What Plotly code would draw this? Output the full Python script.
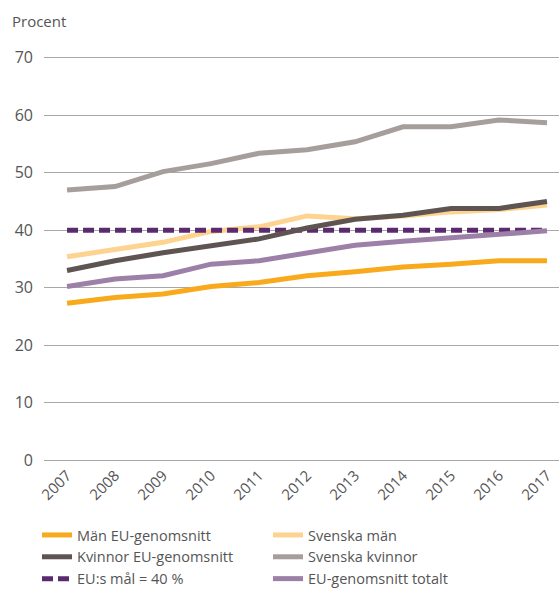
import plotly.graph_objects as go

years = list(range(2007, 2018))
man_eu = [27.3, 28.3, 28.9, 30.2, 30.9, 32.1, 32.8, 33.6, 34.1, 34.7, 34.7]
svenska_man = [35.4, 36.7, 37.9, 39.8, 40.6, 42.5, 42.0, 42.5, 43.2, 43.6, 44.4]
kvinnor_eu = [33.0, 34.7, 36.1, 37.3, 38.5, 40.4, 41.9, 42.6, 43.8, 43.8, 45.0]
svenska_kvinnor = [47.0, 47.6, 50.2, 51.6, 53.4, 54.0, 55.4, 58.0, 58.0, 59.2, 58.7]
eu_mal = [40] * 11
eu_totalt = [30.2, 31.5, 32.1, 34.1, 34.7, 36.0, 37.4, 38.1, 38.7, 39.2, 39.9]

names = ["Män EU-genomsnitt", "Svenska män", "Kvinnor EU-genomsnitt",
         "Svenska kvinnor", "EU:s mål = 40 %", "EU-genomsnitt totalt"]
colors = ["#F8AA1C", "#FDD38F", "#5E5452", "#A69E9A", "#5C2B6F", "#9C80A8"]

series = [man_eu, svenska_man, kvinnor_eu, svenska_kvinnor, eu_mal, eu_totalt]
draw_order = [3, 1, 4, 5, 0, 2]

fig = go.Figure()
for i in draw_order:
    dash = "11px,5px" if i == 4 else "solid"
    fig.add_trace(go.Scatter(
        x=years, y=series[i], name=names[i], mode="lines",
        line=dict(color=colors[i], width=5, dash=dash),
        legendrank=i + 1,
    ))

font = "Open Sans, Lato, sans-serif"
fig.update_layout(
    width=559, height=590,
    margin=dict(l=44, r=0, t=55, b=127, autoexpand=False),
    paper_bgcolor="white", plot_bgcolor="white",
    font=dict(family=font, color="#555555", size=14),
    showlegend=True,
    legend=dict(orientation="h", xref="paper", yref="paper",
                x=-7 / 515, xanchor="left", y=-56 / 408, yanchor="top",
                entrywidth=186, entrywidthmode="pixels",
                font=dict(size=14.5, color="#555555"), itemwidth=30,
                traceorder="normal"),
    xaxis=dict(range=[2006.52, 2017.25], tickvals=years, ticktext=[str(y) for y in years],
               tickangle=-45, showgrid=False, zeroline=False, showline=False,
               tickfont=dict(size=15), ticks="", automargin=False),
    yaxis=dict(range=[-0.5, 70.5], tickvals=[0, 10, 20, 30, 40, 50, 60, 70],
               showgrid=True, gridcolor="#A8A8A8", gridwidth=1.2, zeroline=False,
               showline=False, ticks="", ticklabelstandoff=10, tickfont=dict(size=16),
               automargin=False),
    annotations=[dict(text="Procent", xref="paper", yref="paper", x=-0.066, y=1.0,
                      xanchor="left", yanchor="bottom", yshift=22, showarrow=False,
                      font=dict(size=15, color="#555555"))],
)
fig.write_html("out.html", config={"displayModeBar": False},
               post_script="document.body.style.margin='0';document.body.style.overflow='hidden';")
